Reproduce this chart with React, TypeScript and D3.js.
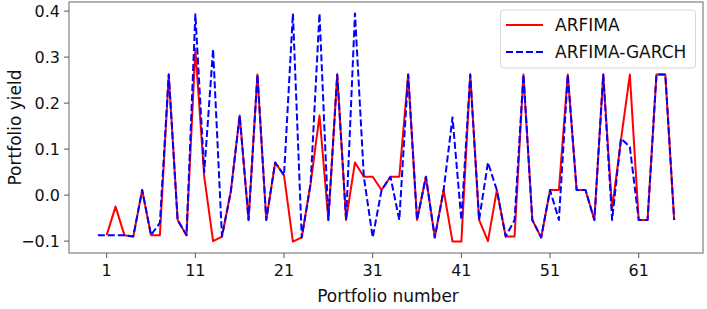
import React from "react";
import * as d3 from "d3";

const arfimaX = d3.range(1, 66);
const arfima = [
  -0.087, -0.025, -0.087, -0.09, 0.011, -0.087, -0.087, 0.262, -0.054, -0.087,
  0.318, 0.04, -0.1, -0.09, 0.008, 0.173, -0.054, 0.262, -0.054, 0.071,
  0.043, -0.101, -0.092, 0.025, 0.173, -0.054, 0.262, -0.054, 0.071, 0.04,
  0.04, 0.011, 0.04, 0.04, 0.262, -0.054, 0.04, -0.092, 0.011, -0.101,
  -0.101, 0.262, -0.054, -0.1, 0.011, -0.09, -0.09, 0.262, -0.054, -0.092,
  0.011, 0.011, 0.262, 0.011, 0.011, -0.054, 0.262, -0.03, 0.12, 0.262,
  -0.054, -0.054, 0.262, 0.262, -0.054,
];

const garchX = d3.range(0, 66);
const garch = [
  -0.087,
  -0.087, -0.087, -0.087, -0.09, 0.011, -0.087, -0.06, 0.262, -0.054, -0.087,
  0.393, 0.05, 0.317, -0.09, 0.008, 0.173, -0.054, 0.262, -0.054, 0.071,
  0.043, 0.395, -0.092, 0.025, 0.395, -0.054, 0.262, -0.054, 0.395, 0.04,
  -0.092, 0.011, 0.04, -0.054, 0.262, -0.054, 0.04, -0.092, 0.011, 0.169,
  -0.054, 0.262, -0.054, 0.071, 0.011, -0.09, -0.054, 0.262, -0.054, -0.092,
  0.011, -0.054, 0.262, 0.011, 0.011, -0.054, 0.262, -0.054, 0.123, 0.105,
  -0.054, -0.054, 0.262, 0.262, -0.054,
];

const xTicks = [1, 11, 21, 31, 41, 51, 61];
const yTicks = [-0.1, 0.0, 0.1, 0.2, 0.3, 0.4];
const seriesNames = ["ARFIMA", "ARFIMA-GARCH"];

const W = 707;
const H = 309;
const L = 69, R = 703, T = 2, B = 253;
const FONT = "DejaVu Sans, sans-serif";

export default function App() {
  const allX = [...arfimaX, ...garchX];
  const allY = [...arfima, ...garch];
  const [x0, x1] = d3.extent(allX) as [number, number];
  const [y0, y1] = d3.extent(allY) as [number, number];
  const mx = (x1 - x0) * 0.05;
  const my = (y1 - y0) * 0.05;
  const x = d3.scaleLinear().domain([x0 - mx, x1 + mx]).range([L, R]);
  const y = d3.scaleLinear().domain([y0 - my, y1 + my]).range([B, T]);

  const line = d3
    .line<[number, number]>()
    .x((d) => x(d[0]))
    .y((d) => y(d[1]));

  const redPath = line(arfimaX.map((v, i) => [v, arfima[i]]) as [number, number][]) || "";
  const bluePath = line(garchX.map((v, i) => [v, garch[i]]) as [number, number][]) || "";

  const fmt = (v: number) => (v < 0 ? "\u2212" + Math.abs(v).toFixed(1) : v.toFixed(1));

  return (
    <svg width={W} height={H} style={{ position: "absolute", left: 0, top: 0, background: "#fff" }}>
      <rect x={0} y={0} width={W} height={H} fill="#fff" />
      <defs>
        <clipPath id="plotclip">
          <rect x={L} y={T} width={R - L} height={B - T} />
        </clipPath>
      </defs>
      <g clipPath="url(#plotclip)">
        <path d={redPath} fill="none" stroke="#ff0000" strokeWidth={2} strokeLinejoin="round" />
        <path d={bluePath} fill="none" stroke="#0000ff" strokeWidth={2} strokeDasharray="7,3" strokeLinejoin="round" />
      </g>
      <rect x={L} y={T} width={R - L} height={B - T} fill="none" stroke="#808080" strokeWidth={1.2} />
      {xTicks.map((t) => (
        <g key={"xt" + t}>
          <line x1={x(t)} x2={x(t)} y1={B} y2={B + 5} stroke="#555" strokeWidth={1} />
          <text x={x(t)} y={B + 23} textAnchor="middle" fontFamily={FONT} fontSize={16} fill="#111">
            {t}
          </text>
        </g>
      ))}
      {yTicks.map((t) => (
        <g key={"yt" + t}>
          <line x1={L - 5} x2={L} y1={y(t)} y2={y(t)} stroke="#555" strokeWidth={1} />
          <text x={L - 9} y={y(t) + 6} textAnchor="end" fontFamily={FONT} fontSize={16} fill="#111">
            {fmt(t)}
          </text>
        </g>
      ))}
      <text x={(L + R) / 2 + 2} y={302} textAnchor="middle" fontFamily={FONT} fontSize={17} fill="#111">
        Portfolio number
      </text>
      <text
        transform={`translate(21, ${(T + B) / 2}) rotate(-90)`}
        textAnchor="middle"
        fontFamily={FONT}
        fontSize={17}
        fill="#111"
      >
        Portfolio yield
      </text>
      <g>
        <rect x={500.5} y={10} width={195} height={58} rx={3} fill="#fff" fillOpacity={0.85} stroke="#d6d6d6" strokeWidth={1} />
        <line x1={506} x2={543} y1={25} y2={25} stroke="#ff0000" strokeWidth={2} />
        <line x1={506} x2={543} y1={52} y2={52} stroke="#0000ff" strokeWidth={2} strokeDasharray="7,3" />
        <text x={555} y={31} fontFamily={FONT} fontSize={17} fill="#111">
          {seriesNames[0]}
        </text>
        <text x={555} y={58} fontFamily={FONT} fontSize={17} fill="#111">
          {seriesNames[1]}
        </text>
      </g>
    </svg>
  );
}
